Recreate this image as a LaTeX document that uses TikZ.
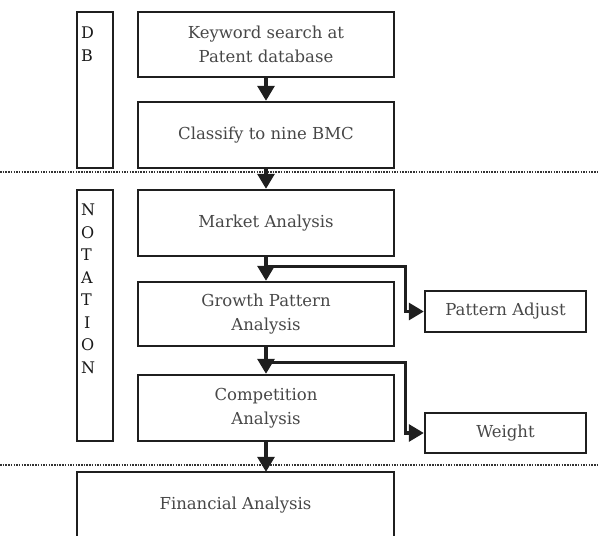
\documentclass[tikz,border=0pt]{standalone}
\usepackage{fontspec}
\setmainfont{DejaVu Serif}
\usetikzlibrary{arrows.meta,calc}
\begin{document}
\begin{tikzpicture}[x=1pt,y=-1pt,
  box/.style={draw=black!88,line width=2.4pt,rectangle,inner sep=0pt,
    font=\fontsize{16.5}{23.5}\selectfont,text=black!72,align=center},
  arr/.style={draw=black!88,line width=3.2pt,-{Triangle[width=17pt,length=15pt]}},
  sep/.style={draw=black!80,line width=2.4pt,dash pattern=on 1.5pt off 1.2pt},
  vlab/.style={font=\fontsize{16}{22.5}\selectfont,text=black!90,align=left,inner sep=0pt}]
\useasboundingbox (0,0) rectangle (598,536);
\begin{scope}
\clip (0,0) rectangle (598,536);
\node[box,minimum width=36pt,minimum height=156pt] (db) at (95,90) {};
\node[box,minimum width=256pt,minimum height=65pt] (kw) at (266,44.5) {Keyword search at\\Patent database};
\node[box,minimum width=256pt,minimum height=66pt] (cl) at (266,135) {Classify to nine BMC};
\node[box,minimum width=36pt,minimum height=251pt] (nt) at (95,315.5) {};
\node[box,minimum width=256pt,minimum height=66pt] (ma) at (266,223) {Market Analysis};
\node[box,minimum width=256pt,minimum height=64pt] (gp) at (266,314) {Growth Pattern\\Analysis};
\node[box,minimum width=256pt,minimum height=66pt] (ca) at (266,408) {Competition\\Analysis};
\node[box,minimum width=161pt,minimum height=41pt] (pa) at (505.5,311.5) {Pattern Adjust};
\node[box,minimum width=161pt,minimum height=40pt] (wt) at (505.5,433) {Weight};
\node[box,minimum width=317pt,minimum height=66pt] (fa) at (235.5,505) {Financial Analysis};
\end{scope}
\node[vlab,anchor=north west] (dbt) at (81,27) {D\\B};
\node[vlab,anchor=north west] (ntt) at (81,204) {N\\O\\T\\A\\T\\\hspace{3pt}I\\O\\N};
\coordinate (l1a) at (0,172); \coordinate (l1b) at (598,172);
\coordinate (l2a) at (0,465); \coordinate (l2b) at (598,465);
\draw[sep] (l1a) -- (l1b);
\draw[sep] (l2a) -- (l2b);
\draw[arr] (kw.south) -- (cl.north);
\draw[arr] (cl.south) -- (ma.north);
\draw[arr] (ma.south) -- (gp.north);
\draw[arr] (gp.south) -- (ca.north);
\draw[arr] (ca.south) -- ([yshift=-1pt]ca.south |- fa.north);
\draw[arr] ([yshift=14pt]gp.north) -| ([xshift=-18pt]pa.west) -- (pa.west);
\draw[arr] ([yshift=11pt]ca.north) -| ([xshift=-18pt]wt.west) -- (wt.west);
\end{tikzpicture}
\end{document}
